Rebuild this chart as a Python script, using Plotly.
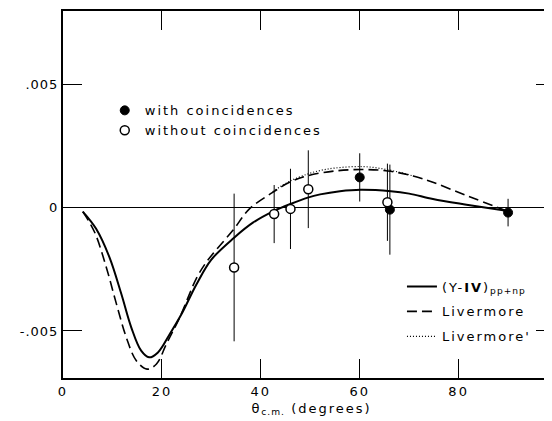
import plotly.graph_objects as go

# ---------------- data ----------------
theta_y4 = [4.0, 6.7, 9.4, 11.8, 13.8, 15.8, 17.4, 19.2, 21.6, 24.0, 27.0, 30.0, 34.6,
            38.4, 42.7, 46.0, 49.5, 52.0, 56.0, 60.2, 66.3, 70.0, 74.8, 81.6, 90.0]
asym_y4 = [-0.00015, -0.00085, -0.00201, -0.0035, -0.00485, -0.0058, -0.00607, -0.00587,
           -0.00512, -0.0043, -0.0031, -0.0021, -0.00121, -0.0006, -0.00012, 0.00016,
           0.00042, 0.00055, 0.00068, 0.00074, 0.00068, 0.00058, 0.00036, 0.00013, -0.00013]

theta_liv = [4.0, 6.4, 8.75, 10.8, 12.8, 14.8, 17.0, 18.9, 20.9, 23.6, 27.0, 29.0, 31.0,
             34.4, 37.7, 42.4, 45.8, 49.5, 55.0, 60.6, 65.7, 70.8, 74.8, 81.6, 89.5]
asym_liv = [-0.00015, -0.00099, -0.00241, -0.0039, -0.00526, -0.0062, -0.00655, -0.00634,
            -0.00553, -0.00445, -0.00285, -0.0022, -0.0017, -0.0009, -0.00004, 0.00063,
            0.00104, 0.00131, 0.0015, 0.00156, 0.0015, 0.0013, 0.00104, 0.0005, -0.0001]

theta_livp = [42.4, 45.8, 49.5, 52.0, 55.0, 60.6, 65.7, 70.8]
asym_livp = [0.00066, 0.00108, 0.00138, 0.00152, 0.00162, 0.00168, 0.00155, 0.0013]

theta_with = [60.0, 66.1, 90.0]
asym_with = [0.00124, -0.00007, -0.00019]
err_with = [0.00098, 0.00183, 0.00056]

theta_without = [34.6, 42.7, 46.0, 49.6, 65.6]
asym_without = [-0.00242, -0.00025, -0.00004, 0.00076, 0.00023]
err_without = [0.003, 0.00118, 0.00163, 0.00158, 0.00157]

x_tickvals = [0, 20, 40, 60, 80]
x_ticktext = ["0", "20", "40", "60", "80"]
y_tickvals = [-0.005, 0, 0.005]
y_ticktext = ["-.005", "0", ".005"]

FONT = "DejaVu Sans"


def sp(t, ls=2):
    return f"<span style='letter-spacing:{ls}px'>{t}</span>"


fig = go.Figure()

fig.add_trace(go.Scatter(
    x=theta_y4, y=asym_y4, mode="lines", line=dict(color="black", width=2, shape="spline"),
    name=sp("(Y-<b>IV</b>)") + "<sub>" + sp("pp+np", 1) + "</sub>", legend="legend2",
    legendgroup="a"))
fig.add_trace(go.Scatter(
    x=theta_liv, y=asym_liv, mode="lines",
    line=dict(color="black", width=1.6, dash="10px,5px", shape="spline"),
    name=sp("Livermore"), legend="legend2", legendgroup="b"))
fig.add_trace(go.Scatter(
    x=theta_livp, y=asym_livp, mode="lines",
    line=dict(color="black", width=1.2, dash="1px,2px", shape="spline"),
    name=sp("Livermore'"), legend="legend2", legendgroup="c"))

fig.add_trace(go.Scatter(
    x=theta_with, y=asym_with, mode="markers",
    marker=dict(symbol="circle", size=9, color="black", line=dict(color="black", width=1)),
    error_y=dict(type="data", array=err_with, visible=True, color="black", thickness=1, width=0),
    name=sp("with coincidences"), legend="legend"))
fig.add_trace(go.Scatter(
    x=theta_without, y=asym_without, mode="markers",
    marker=dict(symbol="circle", size=9, color="white", line=dict(color="black", width=1.5)),
    error_y=dict(type="data", array=err_without, visible=True, color="black", thickness=1, width=0),
    name=sp("without coincidences"), legend="legend"))

# invisible trace to bring the right-hand tick axis to life
fig.add_trace(go.Scatter(x=[], y=[], yaxis="y2", showlegend=False))

fig.update_layout(
    width=552, height=421,
    margin=dict(l=55, r=0, t=3, b=51),
    paper_bgcolor="white", plot_bgcolor="white",
    font=dict(family=FONT, size=13, color="black"),
    xaxis=dict(
        range=[0, 100.5], tickvals=x_tickvals, ticktext=[sp(t) for t in x_ticktext],
        ticks="inside", ticklen=19, tickwidth=1.2, tickcolor="black",
        showline=True, linecolor="black", linewidth=2, mirror="ticks",
        showgrid=False, zeroline=False,
        tickfont=dict(size=13),
        title=dict(text=sp("θ") + "<sub>" + sp("c.m.", 1) + "</sub>" + sp(" (degrees)"),
                   font=dict(size=13), standoff=6),
    ),
    yaxis=dict(
        range=[-0.00691, 0.0080], tickvals=y_tickvals, ticktext=[sp(t, 1) for t in y_ticktext],
        ticks="inside", ticklen=19, tickwidth=1.2, tickcolor="black",
        showline=True, linecolor="black", linewidth=2, mirror=False,
        showgrid=False, zeroline=True, zerolinecolor="black", zerolinewidth=1,
        tickfont=dict(size=13),
    ),
    yaxis2=dict(
        overlaying="y", side="right", range=[-0.00691, 0.0080],
        tickvals=[-0.005, 0.005], showticklabels=False,
        ticks="inside", ticklen=24, tickwidth=1.2, tickcolor="black",
        showline=False, showgrid=False, zeroline=False,
    ),
    legend=dict(x=0.084, y=0.77, xanchor="left", yanchor="top",
                bgcolor="rgba(0,0,0,0)", font=dict(size=13), tracegroupgap=0,
                itemsizing="trace"),
    legend2=dict(x=0.682, y=0.29, xanchor="left", yanchor="top",
                 bgcolor="rgba(0,0,0,0)", font=dict(size=13), tracegroupgap=5),
    showlegend=True,
)

fig.write_html("out.html")
